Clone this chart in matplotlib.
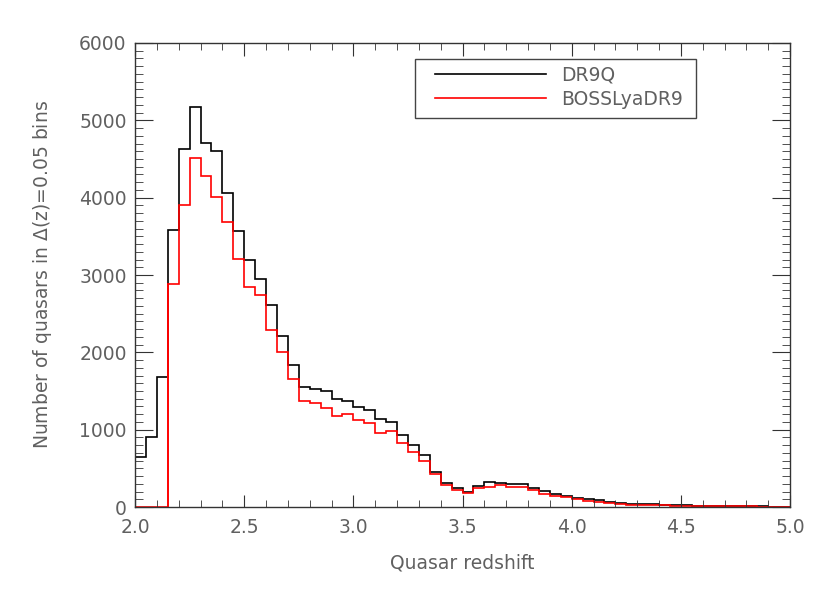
import numpy as np
import matplotlib
matplotlib.use('Agg')
from matplotlib import pyplot as plt
from matplotlib.ticker import MultipleLocator, FormatStrFormatter
from matplotlib.patches import Rectangle

# quasar counts per dz = 0.05 bin, from z = 2.00 up to z = 5.00
z_start = 2.0
bin_width = 0.05

dr9q = [650, 905, 1686, 3583, 4631, 5166, 4713, 4605, 4058, 3575,
        3195, 2945, 2609, 2212, 1841, 1548, 1526, 1505, 1397, 1371,
        1290, 1251, 1143, 1104, 931, 802, 677, 448, 306, 250,
        198, 276, 319, 315, 298, 298, 241, 207, 168, 146,
        112, 100, 92, 60, 52, 43, 35, 40, 28, 24,
        20, 18, 15, 14, 12, 10, 9, 7, 6, 5]

boss_lya_dr9 = [0, 0, 0, 2881, 3907, 4519, 4286, 4014, 3691, 3212,
                2850, 2743, 2286, 2009, 1652, 1367, 1350, 1281, 1181, 1203,
                1125, 1091, 957, 979, 824, 711, 599, 427, 285, 216,
                185, 241, 263, 280, 263, 263, 216, 168, 146, 133,
                99, 75, 65, 48, 39, 22, 22, 30, 26, 17,
                15, 13, 12, 10, 9, 8, 7, 5, 4, 3]

labels = ['DR9Q', 'BOSSLyaDR9']
text_color = '#606060'

edges = z_start + bin_width * np.arange(len(dr9q) + 1)

fig = plt.figure(figsize=(8.3, 5.93), dpi=100)
ax = fig.add_axes([0.1627, 0.145, 0.7892, 0.7825])

ax.stairs(dr9q, edges, baseline=None, color='black', lw=1.2, label=labels[0])
ax.stairs(boss_lya_dr9, edges, baseline=None, color='red', lw=1.2,
          label=labels[1])
# red histogram rises from zero at its first non-empty bin
ax.plot([edges[3], edges[3]], [0, boss_lya_dr9[3]], color='red', lw=1.2)

ax.set_xlim(2.0, 5.0)
ax.set_ylim(0, 6000)
ax.xaxis.set_major_locator(MultipleLocator(0.5))
ax.xaxis.set_minor_locator(MultipleLocator(0.1))
ax.yaxis.set_major_locator(MultipleLocator(1000))
ax.yaxis.set_minor_locator(MultipleLocator(100))
ax.xaxis.set_major_formatter(FormatStrFormatter('%.1f'))

ax.tick_params(which='both', direction='in', top=True, right=True,
               colors='#333333', labelcolor=text_color, labelsize=13.5)
ax.tick_params(axis='x', which='major', length=9, pad=8)
ax.tick_params(axis='x', which='minor', length=5)
ax.tick_params(axis='y', which='major', length=13, pad=6)
ax.tick_params(axis='y', which='minor', length=6)
for s in ax.spines.values():
    s.set_color('#333333')
    s.set_linewidth(1.0)

ax.set_xlabel('Quasar redshift', color=text_color, fontsize=13.5,
              labelpad=12)
ax.set_ylabel('Number of quasars in $\\Delta$(z)=0.05 bins', color=text_color,
              fontsize=13.5, labelpad=18)

# legend box drawn by hand so the line/text offsets match
ax.add_patch(Rectangle((0.427, 0.838), 0.429, 0.127, transform=ax.transAxes,
                       facecolor='white', edgecolor='#444444', lw=1.0,
                       zorder=4))
leg = ax.legend(loc='upper left', bbox_to_anchor=(0.458, 0.952),
                fontsize=13.5, handlelength=5.9, handletextpad=0.85,
                borderpad=0, labelspacing=0.3, frameon=False,
                borderaxespad=0)
leg.set_zorder(5)
for t in leg.get_texts():
    t.set_color(text_color)

fig.savefig('out.png', dpi=100)
